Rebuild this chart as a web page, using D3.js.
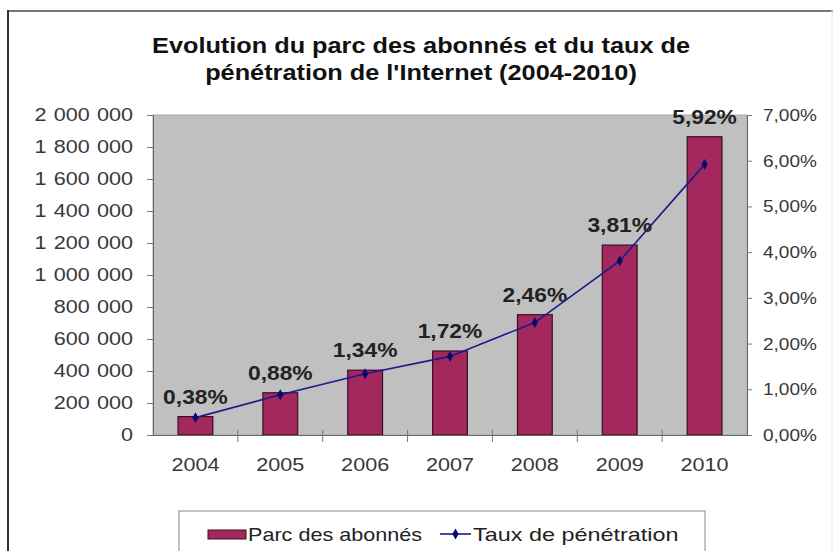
<!DOCTYPE html>
<html><head><meta charset="utf-8">
<script src="https://cdn.jsdelivr.net/npm/d3@7"></script>
<style>
body{margin:0;background:#fff;}
text{font-family:"Liberation Sans",Arial,sans-serif;}
</style></head>
<body><svg id="c" width="837" height="551"></svg>
<script>
const years = ["2004","2005","2006","2007","2008","2009","2010"];
const abonnes = [115000, 264000, 405000, 525000, 752000, 1187000, 1864000];
const taux = [0.38, 0.88, 1.34, 1.72, 2.46, 3.81, 5.92];
const leftTicks = [0,200000,400000,600000,800000,1000000,1200000,1400000,1600000,1800000,2000000];
const rightTicks = [0,1,2,3,4,5,6,7];
const titleLines = ["Evolution du parc des abonnés et du taux de","pénétration de l'Internet (2004-2010)"];
const legendLabels = ["Parc des abonnés","Taux de pénétration"];

const svg = d3.select("#c");
const W=837,H=551;
const m={l:153,r:747,t:115,b:435};

svg.append("rect").attr("x",0).attr("y",0).attr("width",W).attr("height",H).attr("fill","#fff");
svg.append("line").attr("x1",8).attr("x2",833).attr("y1",11).attr("y2",11).attr("stroke","#777").attr("stroke-width",2);
svg.append("line").attr("x1",8).attr("x2",8).attr("y1",10).attr("y2",H).attr("stroke","#333").attr("stroke-width",2);
svg.append("line").attr("x1",832).attr("x2",832).attr("y1",10).attr("y2",H).attr("stroke","#e4e4e4").attr("stroke-width",1);

const x = d3.scaleBand().domain(years).range([m.l,m.r]).paddingInner(0.59).paddingOuter(0.295);
const xb = d3.scaleBand().domain(years).range([m.l,m.r]);
const y = d3.scaleLinear().domain([0,2000000]).range([m.b,m.t]);
const y2 = d3.scaleLinear().domain([0,7]).range([m.b,m.t]);

svg.append("rect").attr("x",m.l).attr("y",m.t).attr("width",m.r-m.l).attr("height",m.b-m.t)
  .attr("fill","#c0c0c0").attr("stroke","#aaa").attr("stroke-width",1);

// title
svg.append("g").selectAll("text").data(titleLines).join("text")
  .attr("transform",(d,i)=>`translate(421,${53+i*27}) scale(1.15,1)`)
  .attr("text-anchor","middle").attr("font-size",22).attr("font-weight","bold").attr("fill","#111")
  .text(d=>d);

// bars
svg.append("g").selectAll("rect").data(abonnes).join("rect")
  .attr("x",(d,i)=>x(years[i])).attr("width",x.bandwidth())
  .attr("y",d=>y(d)).attr("height",d=>y(0)-y(d))
  .attr("fill","#a3285e").attr("stroke","#3a1024").attr("stroke-width",1.2);

// axes
const fmtSp = d=>d3.format(",")(d).replace(/,/g,"\u2004");
const gl = svg.append("g").attr("transform",`translate(${m.l},0)`)
  .call(d3.axisLeft(y).tickValues(leftTicks).tickFormat(fmtSp).tickSize(6).tickPadding(14));
const gr = svg.append("g").attr("transform",`translate(${m.r},0)`)
  .call(d3.axisRight(y2).tickValues(rightTicks).tickFormat(d=>d3.format(".2f")(d).replace(".",",")+"%").tickSize(5).tickPadding(11));
const gb = svg.append("g").attr("transform",`translate(0,${m.b})`)
  .call(d3.axisBottom(xb).tickSize(0).tickPadding(23));
// category separator ticks
svg.append("g").selectAll("line").data(years.slice(1)).join("line")
  .attr("x1",d=>xb(d)).attr("x2",d=>xb(d)).attr("y1",m.b-5).attr("y2",m.b+7)
  .attr("stroke","#777");
[gl,gr,gb].forEach(g=>{
  g.select(".domain").attr("stroke","#666");
  g.selectAll(".tick line").attr("stroke","#777");
  g.selectAll(".tick text").attr("fill","#383838")
    .attr("font-family","'Liberation Sans',Arial,sans-serif");
});
gl.selectAll(".tick text").attr("font-size",18).attr("transform","scale(1.2,1)").attr("x",-20/1.2);
gr.selectAll(".tick text").attr("font-size",17).attr("transform","scale(1.12,1)").attr("x",16/1.12);
gb.selectAll(".tick text").attr("font-size",18).attr("transform","scale(1.2,1)").attr("x",0).attr("dy","0.75em");

// line
const cx = i=>xb(years[i])+xb.bandwidth()/2;
svg.append("path").datum(taux)
  .attr("d",d3.line().x((d,i)=>cx(i)).y(d=>y2(d)))
  .attr("fill","none").attr("stroke","#1a1a8c").attr("stroke-width",1.6);
svg.append("g").selectAll("path").data(taux).join("path")
  .attr("transform",(d,i)=>`translate(${cx(i)},${y2(d)})`)
  .attr("d",d3.symbol(d3.symbolDiamond,34)).attr("fill","#0a0a6e");

// data labels
svg.append("g").selectAll("text").data(taux).join("text")
  .attr("transform",(d,i)=>`translate(${cx(i)},${y(abonnes[i])-13}) scale(1.14,1)`)
  .attr("text-anchor","middle").attr("font-size",20).attr("font-weight","bold").attr("fill","#222")
  .text(d=>d3.format(".2f")(d).replace(".",",")+"%");

// legend
const lg = svg.append("g");
lg.append("rect").attr("x",179).attr("y",511).attr("width",526).attr("height",60)
  .attr("fill","#fff").attr("stroke","#888");
lg.append("rect").attr("x",208).attr("y",530).attr("width",38).attr("height",9)
  .attr("fill","#a3285e").attr("stroke","#3a1024");
lg.append("text").attr("transform",`translate(248,541) scale(1.2,1)`).attr("font-size",18).attr("fill","#222").text(legendLabels[0]);
lg.append("line").attr("x1",440).attr("x2",471).attr("y1",534).attr("y2",534).attr("stroke","#1a1a8c").attr("stroke-width",1.6);
lg.append("path").attr("transform","translate(455.5,534)").attr("d",d3.symbol(d3.symbolDiamond,34)).attr("fill","#0a0a6e");
lg.append("text").attr("transform",`translate(473,541) scale(1.3,1)`).attr("font-size",18).attr("fill","#222").text(legendLabels[1]);
</script></body></html>
